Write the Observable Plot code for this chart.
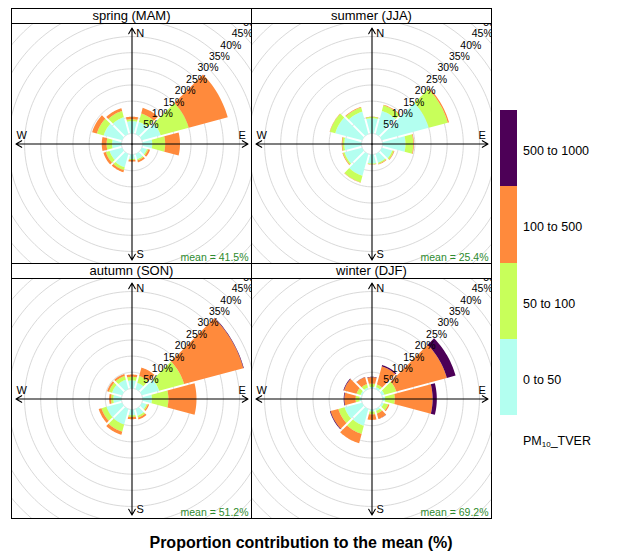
<!DOCTYPE html>
<html><head><meta charset="utf-8">
<script src="https://cdn.jsdelivr.net/npm/d3@7"></script>
<script src="https://cdn.jsdelivr.net/npm/@observablehq/plot@0.6"></script>
<style>
body{margin:0;background:#fff;font-family:"Liberation Sans",Arial,sans-serif;}
#root{position:relative;width:624px;height:553px;overflow:hidden;background:#fff;}
.strip{position:absolute;box-sizing:border-box;border:1px solid #000;text-align:center;font-size:13px;line-height:14px;color:#000;background:#fff;white-space:nowrap;}
.pborder{position:absolute;box-sizing:border-box;border:1px solid #000;pointer-events:none;}
.panel{position:absolute;width:239px;height:239px;overflow:hidden;}
.panel svg{display:block;}
.key{position:absolute;}
.keylab{position:absolute;font-size:12.5px;color:#000;white-space:nowrap;line-height:14px;}
#title{position:absolute;left:0;width:602px;top:534px;text-align:center;font-weight:bold;font-size:16px;line-height:18px;color:#000;}
</style></head><body><div id="root"></div>
<script>
// ---- data ----
const seasons = ["spring (MAM)", "summer (JJA)", "autumn (SON)", "winter (DJF)"];
const meanLabels = ["mean = 41.5%", "mean = 25.4%", "mean = 51.2%", "mean = 69.2%"];
const directions = [0, 30, 60, 90, 120, 150, 180, 210, 240, 270, 300, 330];
const bandLabels = ["0 to 50", "50 to 100", "100 to 500", "500 to 1000"];
const bandColours = ["#B3FFF0", "#C8FF5A", "#FF8A3C", "#4D0057"];
const gridLabels = ["5%", "10%", "15%", "20%", "25%", "30%", "35%", "40%", "45%", "50%"];
const compassLabels = ["N", "E", "S", "W"];

// contribution (%) of each concentration band, by wind sector
const spring0to50    = [3.8, 3.9, 6.0, 3.0, 1.6, 1.7, 1.4, 4.3, 4.0, 2.9, 5.9, 5.4];
const spring50to100  = [0.6, 2.7, 9.0, 4.0, 0.4, 0.4, 0.3, 0.9, 1.2, 1.7, 2.2, 2.0];
const spring100to500 = [0.8, 1.8, 12.5, 4.6, 0.6, 0.6, 0.5, 0.7, 0.8, 1.5, 1.5, 0.9];
const spring500to1000= [0, 0, 0, 0, 0, 0, 0, 0, 0, 0, 0, 0];

const summer0to50    = [4.7, 7.4, 15.0, 7.1, 3.3, 2.8, 2.8, 7.0, 5.6, 5.3, 8.6, 7.2];
const summer50to100  = [0.4, 1.8, 6.1, 2.4, 0.5, 0.4, 0.2, 2.1, 0.5, 0.6, 1.7, 1.3];
const summer100to500 = [0.1, 0.2, 0.4, 0.2, 0.2, 0.2, 0.1, 0.1, 0.2, 0.2, 0.1, 0.2];
const summer500to1000= [0, 0, 0, 0, 0, 0, 0, 0, 0, 0, 0, 0];

const autumn0to50    = [2.5, 2.0, 5.5, 2.9, 1.5, 2.2, 1.8, 5.0, 5.0, 2.5, 3.2, 3.0];
const autumn50to100  = [1.1, 2.2, 8.0, 5.1, 0.4, 0.6, 0.5, 2.3, 1.6, 0.7, 1.0, 1.2];
const autumn100to500 = [0.7, 2.7, 19.0, 8.7, 0.4, 0.6, 0.7, 1.0, 0.9, 0.6, 0.6, 0.6];
const autumn500to1000= [0, 0, 0.15, 0, 0, 0, 0, 0, 0, 0, 0, 0];

const winter0to50    = [0.5, 0.6, 0.8, 0.8, 0.6, 0.6, 0.6, 5.4, 5.6, 0.6, 0.5, 0.5];
const winter50to100  = [1.0, 0.9, 3.8, 3.0, 1.4, 0.9, 0.9, 2.6, 2.0, 1.2, 1.3, 1.1];
const winter100to500 = [2.0, 5.8, 16.2, 11.7, 0.4, 1.7, 1.7, 3.0, 2.5, 3.5, 4.0, 2.2];
const winter500to1000= [0.1, 0.4, 2.8, 1.3, 0, 0.05, 0, 0, 0.2, 0.2, 0.2, 0.05];

const seasonBands = [
  [spring0to50, spring50to100, spring100to500, spring500to1000],
  [summer0to50, summer50to100, summer100to500, summer500to1000],
  [autumn0to50, autumn50to100, autumn100to500, autumn500to1000],
  [winter0to50, winter50to100, winter100to500, winter500to1000]
];

// ---- geometry (openair-like) ----
const totals = seasonBands.flatMap(b => directions.map((d, i) => b.reduce((s, arr) => s + arr[i], 0)));
const maxFreq = d3.max(totals);
const off = maxFreq * 0.10;
const R = maxFreq + off;
const lim = 1.03 * R;
const step = 5;
const halfGap = 0.3;
const rad = Math.PI / 180;

function wedgePoints(id, band, dir, r0, r1) {
  const pts = [];
  const n = 14;
  const d1 = Math.asin(Math.min(1, halfGap / r1)) / rad;
  const d0 = Math.asin(Math.min(1, halfGap / r0)) / rad;
  for (let i = 0; i <= n; i++) {
    const a = (dir - 15 + d1 + (30 - 2 * d1) * i / n) * rad;
    pts.push({id, band, x: r1 * Math.sin(a), y: r1 * Math.cos(a)});
  }
  for (let i = n; i >= 0; i--) {
    const a = (dir - 15 + d0 + (30 - 2 * d0) * i / n) * rad;
    pts.push({id, band, x: r0 * Math.sin(a), y: r0 * Math.cos(a)});
  }
  return pts;
}

const circlePts = [];
for (let k = 0; k <= 11; k++) {
  const r = off + k * step;
  for (let j = 0; j <= 180; j++) {
    const a = j * 2 * Math.PI / 180;
    circlePts.push({k, x: r * Math.sin(a), y: r * Math.cos(a)});
  }
}
const ringText = gridLabels.map((t, k) => {
  const r = off + (k + 1) * step;
  return {t, x: r * Math.sin(45 * rad), y: r * Math.cos(45 * rad)};
});
const arrowData = [[R, 0], [-R, 0], [0, R], [0, -R]].map(([x2, y2]) => ({x1: 0, y1: 0, x2, y2}));
const compassPos = [[0.07, 0.95], [0.95, 0.07], [0.07, -0.95], [-0.95, 0.07]];
const compass = compassLabels.map((t, i) => ({t, x: compassPos[i][0] * R, y: compassPos[i][1] * R}));

const root = document.getElementById("root");
const colX = [12, 252];
const rowTop = [24, 279];
const size = 239;

seasons.forEach((season, s) => {
  const cx = colX[s % 2], cy = rowTop[Math.floor(s / 2)];
  const bands = seasonBands[s];
  const wedges = [];
  directions.forEach((dir, i) => {
    let c = 0;
    bands.forEach((arr, b) => {
      const v = arr[i];
      if (v > 0) {
        wedges.push(...wedgePoints(`${i}-${b}`, bandLabels[b], dir, off + c, off + c + v));
      }
      c += v;
    });
  });

  const plot = Plot.plot({
    width: size, height: size, margin: 0,
    x: {domain: [-lim, lim], axis: null},
    y: {domain: [-lim, lim], axis: null},
    color: {type: "ordinal", domain: bandLabels, range: bandColours},
    style: {fontFamily: "'Liberation Sans', Arial, sans-serif", background: "white", color: "black"},
    marks: [
      Plot.line(circlePts, {x: "x", y: "y", z: "k", stroke: "#d9d9d9", strokeWidth: 1}),
      Plot.line(wedges, {x: "x", y: "y", z: "id", fill: "band", stroke: "none"}),
      Plot.arrow(arrowData, {x1: "x1", y1: "y1", x2: "x2", y2: "y2", stroke: "black", strokeWidth: 1.1, headLength: 9}),
      Plot.text(ringText, {x: "x", y: "y", text: "t", fontSize: 10.5, fill: "black"}),
      Plot.text(compass, {x: "x", y: "y", text: "t", fontSize: 11, fill: "black"}),
      Plot.text([meanLabels[s]], {text: d => d, frameAnchor: "bottom-right", textAnchor: "end", lineAnchor: "bottom", dx: -3, dy: -3, fill: "#2E8B2E", fontSize: 10.5})
    ]
  });

  const panel = document.createElement("div");
  panel.className = "panel";
  panel.style.left = cx + "px";
  panel.style.top = cy + "px";
  panel.appendChild(plot);
  root.appendChild(panel);

  const border = document.createElement("div");
  border.className = "pborder";
  border.style.left = (cx - 1) + "px";
  border.style.top = (cy - 1) + "px";
  border.style.width = (size + 2) + "px";
  border.style.height = (size + 2) + "px";
  root.appendChild(border);

  const strip = document.createElement("div");
  strip.className = "strip";
  strip.style.left = (cx - 1) + "px";
  strip.style.top = (cy - 16) + "px";
  strip.style.width = (size + 2) + "px";
  strip.style.height = "16px";
  strip.textContent = season;
  root.appendChild(strip);
});

// ---- colour key ----
const keyTop = 110, keyH = 305, keyX = 500, keyW = 17;
const segH = keyH / bandLabels.length;
bandLabels.slice().reverse().forEach((lab, j) => {
  const b = bandLabels.length - 1 - j;
  const box = document.createElement("div");
  box.className = "key";
  box.style.left = keyX + "px";
  box.style.top = (keyTop + j * segH) + "px";
  box.style.width = keyW + "px";
  box.style.height = segH + "px";
  box.style.background = bandColours[b];
  root.appendChild(box);
  const t = document.createElement("div");
  t.className = "keylab";
  t.style.left = "523px";
  t.style.top = (keyTop + j * segH + segH / 2 - 4) + "px";
  t.textContent = lab;
  root.appendChild(t);
});
const keyTitle = document.createElement("div");
keyTitle.className = "keylab";
keyTitle.style.left = "523px";
keyTitle.style.top = "434px";
keyTitle.innerHTML = "PM<sub style='font-size:8px;vertical-align:-2px'>10</sub>_TVER";
root.appendChild(keyTitle);

const title = document.createElement("div");
title.id = "title";
title.textContent = "Proportion contribution to the mean (%)";
root.appendChild(title);
</script>
</body></html>
